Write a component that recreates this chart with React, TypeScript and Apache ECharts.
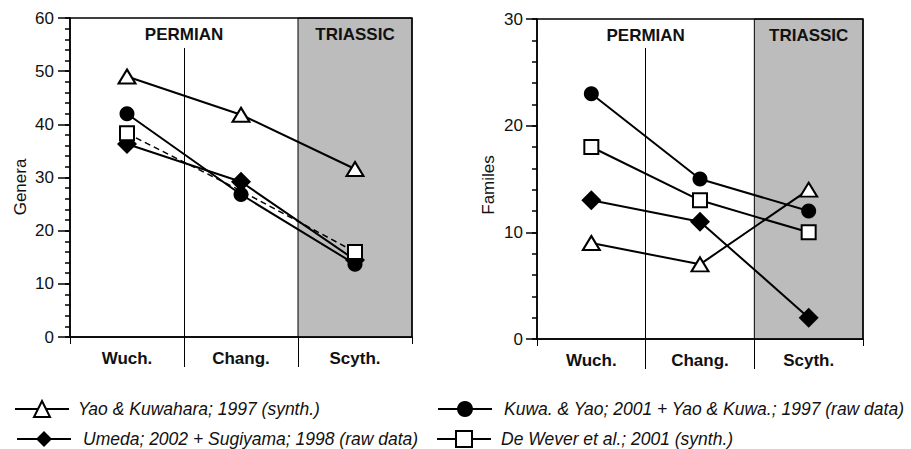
import React, { useEffect, useRef } from "react";
import * as echarts from "echarts";

// ---- data ----
const stages = ["Wuch.", "Chang.", "Scyth."];
const periods = ["PERMIAN", "TRIASSIC"];
const periodBounds = [
  [0, 2],
  [2, 3],
];

const nameYao = "Yao & Kuwahara; 1997 (synth.)";
const nameKuwa = "Kuwa. & Yao; 2001 + Yao & Kuwa.; 1997 (raw data)";
const nameUmeda = "Umeda; 2002 + Sugiyama; 1998 (raw data)";
const nameDeWever = "De Wever et al.; 2001 (synth.)";

const generaYao = [49, 41.8, 31.6];
const generaKuwa = [42, 26.8, 13.7];
const generaUmeda = [36.3, 29.2, 14.5];
const generaDeWever = [38.3, 27.5, 16];

const familiesYao = [9, 7, 14];
const familiesKuwa = [23, 15, 12];
const familiesUmeda = [13, 11, 2];
const familiesDeWever = [18, 13, 10];

// [min, max, major interval, minor interval]
const generaRange = [0, 60, 10, 2];
const familiesRange = [0, 30, 10, 2];

const FONT = '"Liberation Sans", Arial, Helvetica, sans-serif';
const INK = "#111";
const TICK = "#000";

type Panel = {
  left: number;
  top: number;
  width: number;
  height: number;
  range: number[];
  yName: string;
  nameGap: number;
  namePad: number;
  labelMargin: number;
  majorTick: number;
  innerDividerLen: number;
  values: { yao: number[]; kuwa: number[]; umeda: number[]; dewever: number[] };
  deweverDashed: boolean;
  hideDeWeverIdx: number[];
};

const panels: Panel[] = [
  {
    left: 70,
    top: 18,
    width: 342,
    height: 319,
    range: generaRange,
    yName: "Genera",
    nameGap: 41,
    namePad: 19,
    labelMargin: 16,
    majorTick: 12,
    innerDividerLen: 289,
    values: { yao: generaYao, kuwa: generaKuwa, umeda: generaUmeda, dewever: generaDeWever },
    deweverDashed: true,
    hideDeWeverIdx: [1],
  },
  {
    left: 537,
    top: 19,
    width: 326,
    height: 320,
    range: familiesRange,
    yName: "Familes",
    nameGap: 40,
    namePad: 12,
    labelMargin: 14,
    majorTick: 11,
    innerDividerLen: 291,
    values: { yao: familiesYao, kuwa: familiesKuwa, umeda: familiesUmeda, dewever: familiesDeWever },
    deweverDashed: false,
    hideDeWeverIdx: [],
  },
];

function buildOption() {
  const grid: any[] = [];
  const xAxis: any[] = [];
  const yAxis: any[] = [];
  const series: any[] = [];

  panels.forEach((p, gi) => {
    grid.push({
      left: p.left,
      top: p.top,
      width: p.width,
      height: p.height,
      show: true,
      borderColor: "#000",
      borderWidth: 1.5,
      backgroundColor: "transparent",
      z: 5,
    });
    const base = gi * 4;
    const ybase = gi * 2;
    // stage labels
    xAxis.push({
      type: "category",
      gridIndex: gi,
      data: stages,
      position: "bottom",
      boundaryGap: true,
      axisLine: { show: false },
      axisTick: { show: false },
      axisLabel: { fontFamily: FONT, fontSize: 17, fontWeight: "bold", color: INK, margin: 13 },
    });
    // axis line + short end ticks
    xAxis.push({
      type: "value",
      gridIndex: gi,
      position: "bottom",
      min: 0,
      max: 3,
      interval: 1,
      axisLine: { show: true, lineStyle: { color: "#000", width: 1.5 } },
      axisTick: { show: true, customValues: [0, 3], length: 7, lineStyle: { color: "#000", width: 1 } },
      axisLabel: { show: false },
      splitLine: { show: false },
    });
    // long ticks at stage boundaries
    xAxis.push({
      type: "value",
      gridIndex: gi,
      position: "bottom",
      min: 0,
      max: 3,
      interval: 1,
      axisLine: { show: false },
      axisTick: { show: true, customValues: [1, 2], length: 30, lineStyle: { color: "#000", width: 1 } },
      axisLabel: { show: false },
      splitLine: { show: false },
    });
    // Permian inner divider
    xAxis.push({
      type: "value",
      gridIndex: gi,
      position: "bottom",
      min: 0,
      max: 3,
      interval: 1,
      axisLine: { show: false },
      axisTick: {
        show: true,
        inside: true,
        customValues: [1],
        length: p.innerDividerLen,
        lineStyle: { color: "#000", width: 1 },
      },
      axisLabel: { show: false },
      splitLine: { show: false },
    });

    yAxis.push({
      type: "value",
      gridIndex: gi,
      position: "left",
      min: p.range[0],
      max: p.range[1],
      interval: p.range[2],
      name: p.yName,
      nameLocation: "middle",
      nameGap: p.nameGap,
      nameTextStyle: { fontFamily: FONT, fontSize: 17, color: INK, padding: [0, p.namePad, 0, 0] },
      axisLine: { show: true, onZero: false, lineStyle: { color: "#000", width: 1.5 } },
      axisTick: { show: true, inside: false, length: p.majorTick, lineStyle: { color: TICK, width: 1.5 } },
      axisLabel: { fontFamily: FONT, fontSize: 17, color: INK, margin: p.labelMargin },
      splitLine: { show: false },
    });
    yAxis.push({
      type: "value",
      gridIndex: gi,
      position: "left",
      offset: 0,
      min: p.range[0],
      max: p.range[1],
      interval: p.range[3],
      axisLine: { show: false, onZero: false },
      axisTick: { show: true, inside: false, length: 5, lineStyle: { color: TICK, width: 1.5 } },
      axisLabel: { show: false },
      splitLine: { show: false },
    });

    // period shading + labels
    series.push({
      type: "line",
      xAxisIndex: base + 1,
      yAxisIndex: ybase,
      data: [],
      silent: true,
      markArea: {
        silent: true,
        label: {
          show: true,
          position: "insideTop",
          distance: 8,
          fontFamily: FONT,
          fontSize: 17,
          fontWeight: "bold",
          color: INK,
        },
        data: periods.map((name, i) => [
          {
            name,
            xAxis: periodBounds[i][0],
            itemStyle:
              i === 1
                ? { color: "#bcbcbc", borderColor: "#000", borderWidth: 1 }
                : { color: "rgba(0,0,0,0)", borderWidth: 0 },
          },
          { xAxis: periodBounds[i][1] },
        ]),
      },
    });

    const v = p.values;
    const lineBase = { type: "line", xAxisIndex: base, yAxisIndex: ybase, z: 3 };
    series.push({
      ...lineBase,
      name: nameYao,
      data: v.yao,
      symbol: "triangle",
      symbolSize: [17, 14],
      itemStyle: { color: "#fff", borderColor: "#000", borderWidth: 2 },
      lineStyle: { color: "#000", width: 2 },
    });
    series.push({
      ...lineBase,
      name: nameKuwa,
      data: v.kuwa,
      symbol: "circle",
      symbolSize: 15,
      itemStyle: { color: "#000", borderColor: "#000", borderWidth: 0 },
      lineStyle: { color: "#000", width: 2 },
    });
    series.push({
      ...lineBase,
      name: nameUmeda,
      data: v.umeda,
      symbol: "diamond",
      symbolSize: [20, 20],
      itemStyle: { color: "#000", borderColor: "#000", borderWidth: 0 },
      lineStyle: { color: "#000", width: 2 },
    });
    series.push({
      ...lineBase,
      name: nameDeWever,
      data: v.dewever.map((val, i) =>
        p.hideDeWeverIdx.includes(i) ? { value: val, symbol: "none" } : val
      ),
      symbol: "rect",
      symbolSize: 14,
      itemStyle: { color: "#fff", borderColor: "#000", borderWidth: 2 },
      lineStyle: p.deweverDashed
        ? { color: "#000", width: 1.5, type: [6, 4] }
        : { color: "#000", width: 2 },
    });
  });

  const legendItem = (name: string, left: number, top: number, pad: number) => ({
    data: [name],
    left,
    top,
    orient: "horizontal",
    padding: 0,
    itemWidth: 54,
    itemHeight: 20,
    selectedMode: false,
    lineStyle: { type: "solid", width: 2 },
    textStyle: {
      fontFamily: FONT,
      fontSize: 17.5,
      fontStyle: "italic",
      color: INK,
      padding: [0, 0, 0, pad],
    },
  });

  const legend = [
    legendItem(nameYao, 14, 400, 4),
    legendItem(nameUmeda, 16, 430, 7),
    legendItem(nameKuwa, 437, 400, 7),
    legendItem(nameDeWever, 436, 430, 5),
  ];

  return {
    animation: false,
    backgroundColor: "#fff",
    grid,
    xAxis,
    yAxis,
    series,
    legend,
  };
}

export default function App() {
  const ref = useRef<HTMLDivElement>(null);
  useEffect(() => {
    if (!ref.current) return;
    const chart = echarts.init(ref.current, undefined, { renderer: "svg" });
    chart.setOption(buildOption() as any);
    return () => chart.dispose();
  }, []);
  return (
    <div
      ref={ref}
      style={{ position: "absolute", left: 0, top: 0, width: 911, height: 449, background: "#fff" }}
    />
  );
}
